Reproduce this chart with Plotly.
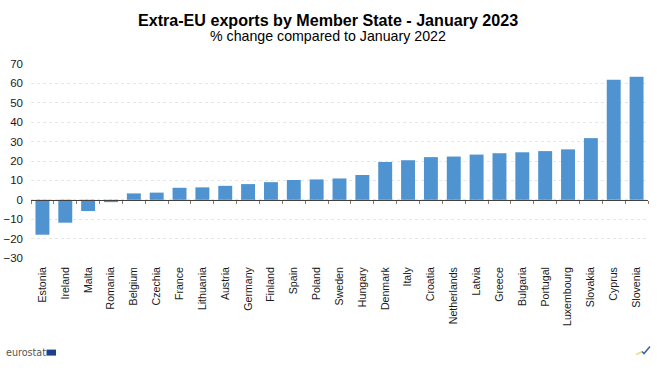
import plotly.graph_objects as go

categories = ["Estonia","Ireland","Malta","Romania","Belgium","Czechia","France","Lithuania","Austria","Germany","Finland","Spain","Poland","Sweden","Hungary","Denmark","Italy","Croatia","Netherlands","Latvia","Greece","Bulgaria","Portugal","Luxembourg","Slovakia","Cyprus","Slovenia"]
values = [-18,-11.8,-5.8,-1.2,3.3,3.7,6.2,6.4,7.2,8.1,9.1,10.2,10.5,11,12.8,19.5,20.4,22,22.3,23.3,24,24.5,25.1,26,31.8,61.9,63.4]
y_ticks = [-30,-20,-10,0,10,20,30,40,50,60,70]

FONT = "Liberation Sans, Arial, sans-serif"
W, H = 617.5, 193.4
L, B = 30.5, 257.7
def px(x): return (x - L) / W
def py(y): return (B - y) / H

fig = go.Figure()
fig.add_trace(go.Bar(x=categories, y=values, marker=dict(color="#4F94D0", line_width=0), width=0.61, hoverinfo="x+y"))
fig.add_trace(go.Bar(x=categories, y=[None]*len(categories), xaxis="x2", showlegend=False, hoverinfo="skip"))

rng = [-0.5, len(categories)-0.5]
fig.update_layout(
    width=657, height=372, autosize=False,
    margin=dict(l=30.5, r=9, t=64.3, b=114.3, pad=0),
    paper_bgcolor="white", plot_bgcolor="white", showlegend=False, barmode="overlay",
    font=dict(family=FONT, color="#1a1a1a", size=11),
    xaxis=dict(type="category", categoryorder="array", categoryarray=categories, range=rng,
               anchor="free", position=0.3, showticklabels=False, tickson="boundaries", automargin=False,
               ticks="outside", ticklen=3, tickcolor="#8c7a66", tickwidth=1,
               showline=True, linecolor="#404040", linewidth=1, showgrid=False, zeroline=False),
    xaxis2=dict(type="category", categoryorder="array", categoryarray=categories, range=rng,
                overlaying="x", anchor="y", side="bottom", tickangle=-90, ticks="", ticklen=0,
                ticklabelstandoff=6, automargin=False,
                tickmode="array", tickvals=categories, ticktext=categories,
                tickfont=dict(size=10.6, family=FONT, color="#1a1a1a"),
                showline=False, showgrid=False, zeroline=False),
    yaxis=dict(range=[-30,70], tickvals=y_ticks, ticks="", showline=False, zeroline=False,
               showgrid=True, gridcolor="#e6e6e6", griddash="dot", gridwidth=1,
               ticklabelstandoff=7, automargin=False,
               tickfont=dict(size=11.5, family=FONT, color="#1a1a1a")),
    annotations=[
        dict(text="<b>Extra-EU exports by Member State - January 2023</b>", xref="paper", yref="paper",
             x=px(327.5), xanchor="center", y=py(20), yanchor="middle", showarrow=False,
             font=dict(size=16.1, family=FONT, color="#000000")),
        dict(text="% change compared to January 2022", xref="paper", yref="paper",
             x=px(327.5), xanchor="center", y=py(36), yanchor="middle", showarrow=False,
             font=dict(size=14.2, family=FONT, color="#000000")),
        dict(text="eurostat", xref="paper", yref="paper", x=px(3.5), xanchor="left",
             y=py(352), yanchor="middle", showarrow=False,
             font=dict(size=9.6, family="DejaVu Sans, sans-serif", color="#555555")),
    ],
    shapes=[
        dict(type="rect", xref="paper", yref="paper", x0=px(46), x1=px(55.5),
             y0=py(355), y1=py(349), fillcolor="#1f3f8f", line_width=0),
        dict(type="path", xref="paper", yref="paper", line=dict(color="#e8d878", width=1.5),
             path=f"M {px(636)} {py(354)} L {px(642)} {py(351)}"),
        dict(type="path", xref="paper", yref="paper", line=dict(color="#3a62a8", width=1.5),
             path=f"M {px(642)} {py(351)} L {px(644)} {py(353)} L {px(650)} {py(346)}"),
    ],
)
fig.write_html("out.html", config={"displayModeBar": False}, post_script="document.body.style.margin='0';")
